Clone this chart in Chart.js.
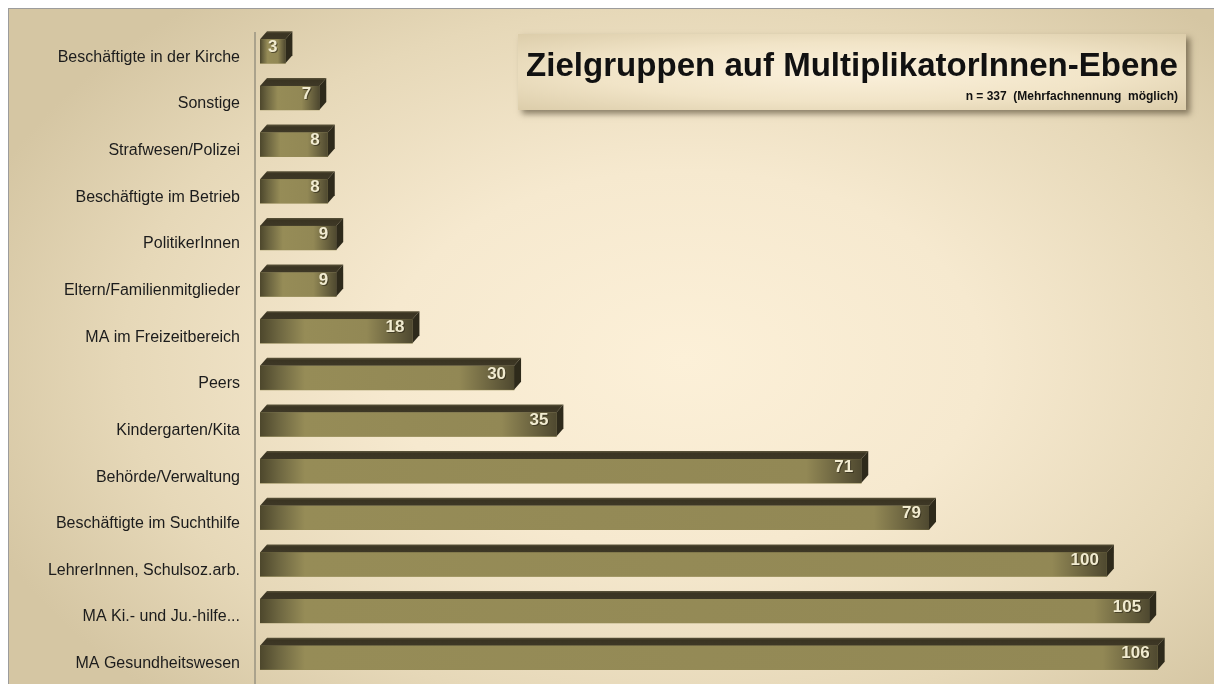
<!DOCTYPE html>
<html lang="de">
<head>
    <meta charset="UTF-8">
    <title>Zielgruppen auf MultiplikatorInnen-Ebene</title>
    <script src="https://cdn.jsdelivr.net/npm/chart.js"></script>
    <style>
        html, body { margin: 0; padding: 0; background: #fff; }
        .panel {
            position: absolute;
            left: 8px; top: 8px;
            width: 1205px; height: 675px;
            border-left: 1px solid #9c9c9c;
            border-top: 1px solid #9c9c9c;
            background: radial-gradient(ellipse 62% 70% at 56% 52%, #fcf0d8 0%, #f6e9cf 40%, #e6d8b8 75%, #d5c6a3 100%);
            overflow: hidden;
        }
        #chart { position: absolute; left: 0; top: 0; width: 1205px; height: 675px; }
        .titlebox {
            position: absolute;
            left: 509px; top: 25px;
            width: 668px; height: 76px;
            background: radial-gradient(ellipse at 50% 50%, #fbf1dc 0%, #f1e4c7 55%, #dccdaa 100%);
            box-shadow: 4px 4px 6px rgba(60, 50, 30, 0.55);
        }
        .titlebox .main {
            position: absolute; left: 0; right: 0; top: 12px;
            text-align: center;
            font-family: "Liberation Sans", Arial, sans-serif;
            font-weight: bold;
            color: #111;
            white-space: nowrap;
        }
        .titlebox .sub {
            position: absolute; right: 8px; top: 55px;
            font-family: "Liberation Sans", Arial, sans-serif;
            font-weight: bold;
            font-size: 12px;
            color: #111;
            white-space: nowrap;
        }
    </style>
</head>
<body>
<div class="panel">
    <canvas id="chart" width="1205" height="675"></canvas>
    <div class="titlebox">
        <div class="main" id="title">Zielgruppen auf MultiplikatorInnen-Ebene</div>
        <div class="sub">n = 337&nbsp; (Mehrfachnennung&nbsp; möglich)</div>
    </div>
</div>

<script>
    const categories = [
        'Beschäftigte in der Kirche',
        'Sonstige',
        'Strafwesen/Polizei',
        'Beschäftigte im Betrieb',
        'PolitikerInnen',
        'Eltern/Familienmitglieder',
        'MA im Freizeitbereich',
        'Peers',
        'Kindergarten/Kita',
        'Behörde/Verwaltung',
        'Beschäftigte im Suchthilfe',
        'LehrerInnen, Schulsoz.arb.',
        'MA Ki.- und Ju.-hilfe...',
        'MA Gesundheitswesen'
    ];
    const values = [3, 7, 8, 8, 9, 9, 18, 30, 35, 71, 79, 100, 105, 106];

    // fit a font size so a string gets a given pixel width
    const measureCtx = document.createElement('canvas').getContext('2d');
    function fitSize(text, weight, family, target) {
        measureCtx.font = weight + ' 20px ' + family;
        return 20 * target / measureCtx.measureText(text).width;
    }

    const titleEl = document.getElementById('title');
    titleEl.style.fontSize = fitSize(titleEl.textContent, 'bold', '"Liberation Sans"', 652).toFixed(2) + 'px';

    const labelSize = Math.min(16, fitSize(categories[0], 'normal', '"Liberation Sans"', 213));

    const DX = 7, DY = 8;

    const bar3d = {
        id: 'bar3d',
        beforeDatasetsDraw(chart) {
            // axis wall line
            const ctx = chart.ctx;
            const a = chart.chartArea;
            ctx.save();
            ctx.strokeStyle = '#aaa28c';
            ctx.lineWidth = 2;
            ctx.beginPath();
            ctx.moveTo(a.left - 5, a.top + 4);
            ctx.lineTo(a.left - 5, chart.height);
            ctx.stroke();
            ctx.restore();
        },
        afterDatasetsDraw(chart) {
            const ctx = chart.ctx;
            const meta = chart.getDatasetMeta(0);
            meta.data.forEach((bar, i) => {
                const p = bar.getProps(['x', 'y', 'base', 'height'], true);
                const l = p.base, r = p.x, t = p.y - p.height / 2, b = p.y + p.height / 2;
                const w = r - l;
                ctx.save();

                // top face
                const tg = ctx.createLinearGradient(0, t - DY, 0, t);
                tg.addColorStop(0, '#5b543a');
                tg.addColorStop(0.3, '#3a3422');
                tg.addColorStop(1, '#3e3826');
                ctx.fillStyle = tg;
                ctx.beginPath();
                ctx.moveTo(l, t);
                ctx.lineTo(l + DX, t - DY);
                ctx.lineTo(r + DX, t - DY);
                ctx.lineTo(r, t);
                ctx.closePath();
                ctx.fill();

                // right face
                ctx.fillStyle = '#2e2a1b';
                ctx.beginPath();
                ctx.moveTo(r, t);
                ctx.lineTo(r + DX, t - DY);
                ctx.lineTo(r + DX, b - DY);
                ctx.lineTo(r, b);
                ctx.closePath();
                ctx.fill();

                // front face
                const fg = ctx.createLinearGradient(l, 0, r, 0);
                const s1 = Math.min(0.3, 45 / w);
                const s2 = Math.max(0.7, 1 - 55 / w);
                fg.addColorStop(0, '#4d472c');
                fg.addColorStop(s1 * 0.4, '#6c6540');
                fg.addColorStop(s1, '#968c57');
                fg.addColorStop(s2, '#928855');
                fg.addColorStop(1, '#4f4930');
                ctx.fillStyle = fg;
                ctx.fillRect(l, t, w, b - t);

                // value label
                ctx.font = 'bold 17px "Liberation Sans", Arial, sans-serif';
                ctx.textAlign = 'right';
                ctx.textBaseline = 'middle';
                ctx.fillStyle = 'rgba(40,35,20,0.6)';
                ctx.fillText(values[i], r - 7, p.y - 3);
                ctx.fillStyle = '#f1ebd0';
                ctx.fillText(values[i], r - 8, p.y - 4);
                ctx.restore();
            });
        }
    };

    new Chart(document.getElementById('chart'), {
        type: 'bar',
        data: {
            labels: categories,
            datasets: [{
                data: values,
                backgroundColor: '#958b55',
                borderWidth: 0,
                barThickness: 24
            }]
        },
        options: {
            indexAxis: 'y',
            responsive: false,
            maintainAspectRatio: false,
            animation: false,
            layout: { padding: { top: 19, bottom: 3, right: 14, left: 0 } },
            plugins: {
                legend: { display: false },
                tooltip: { enabled: false },
                title: { display: false }
            },
            scales: {
                x: {
                    display: false,
                    min: 0,
                    max: 111
                },
                y: {
                    grid: { display: false, drawTicks: false },
                    border: { display: false },
                    afterFit: (scale) => {
                        scale.width = 251;
                        scale.paddingTop = 0;
                        scale.paddingBottom = 0;
                    },
                    ticks: {
                        padding: 20,
                        labelOffset: 6,
                        color: '#1c1c1c',
                        font: { family: '"Liberation Sans", Arial, sans-serif', size: labelSize }
                    }
                }
            }
        },
        plugins: [bar3d]
    });
</script>
</body>
</html>
